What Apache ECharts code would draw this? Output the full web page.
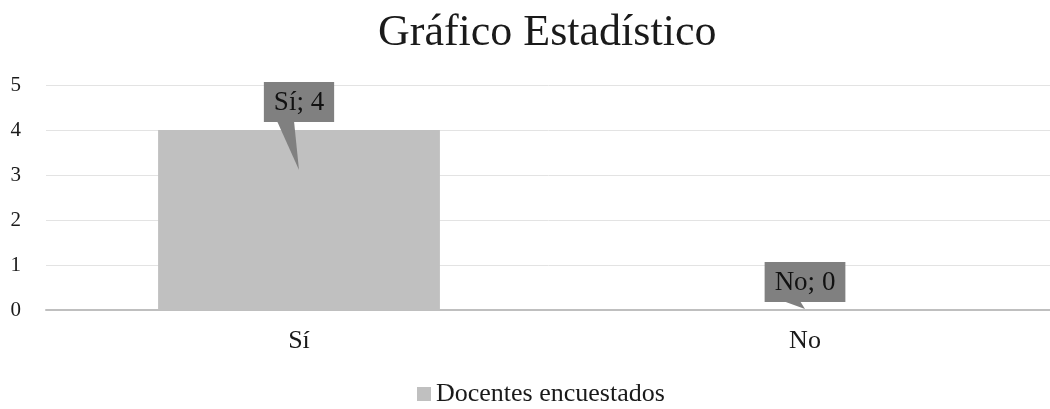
<!DOCTYPE html>
<html><head><meta charset="utf-8">
<script src="https://cdn.jsdelivr.net/npm/echarts@6/dist/echarts.min.js"></script>
<style>html,body{margin:0;padding:0;background:#fff}#c{width:1050px;height:409px}</style>
</head><body><div id="c"></div>
<script>
var categories = ['Sí', 'No'];
var values = [4, 0];
var seriesName = 'Docentes encuestados';
var yTicks = [0, 1, 2, 3, 4, 5];

var chart = echarts.init(document.getElementById('c'));
var font = '"Liberation Serif", "Times New Roman", serif';
chart.setOption({
  animation: false,
  textStyle: { fontFamily: font },
  title: { text: 'Gráfico Estadístico', left: 373, top: 6,
    textStyle: { fontFamily: font, fontSize: 44, fontWeight: 'normal', color: '#1a1a1a' } },
  legend: { bottom: -3, left: 412, itemWidth: 14, itemHeight: 14, icon: 'rect', itemGap: 8,
    data: [seriesName],
    textStyle: { fontFamily: font, fontSize: 26, color: '#1a1a1a' } },
  grid: { left: 46, width: 1012, top: 85, bottom: 99, containLabel: false, outerBoundsMode: 'none' },
  xAxis: { type: 'category', data: categories,
    axisLine: { lineStyle: { color: '#bfbfbf', width: 2 } },
    axisTick: { show: false },
    axisLabel: { fontFamily: font, fontSize: 26, color: '#1a1a1a', margin: 18 } },
  yAxis: { type: 'value', min: 0, max: 5, interval: 1,
    axisLine: { show: false }, axisTick: { show: false },
    splitLine: { lineStyle: { color: '#e3e3e3', width: 1 } },
    axisLabel: { fontFamily: font, fontSize: 21, color: '#1a1a1a', margin: 25,
      formatter: function (v) { return yTicks.indexOf(v) >= 0 ? String(v) : ''; } } },
  series: [
    { name: seriesName, type: 'bar', data: values, barWidth: '55.7%',
      itemStyle: { color: '#c0c0c0' } },
    { type: 'custom', data: values.map(function (v, i) { return [i, v]; }),
      tooltip: { show: false }, z: 10,
      renderItem: function (params, api) {
        var i = api.value(0), v = api.value(1);
        var p = api.coord([i, v]);
        var base = api.coord([i, 0]);
        var cx = p[0];
        var boxBottom = p[1] - 8;
        var tipY = Math.min(p[1] + 40, base[1] - 1);
        var txt = categories[i] + '; ' + values[i];
        return { type: 'group', children: [
          { type: 'polygon', shape: { points: [[cx - 22, boxBottom - 1], [cx - 5, boxBottom - 1], [cx, tipY]] },
            style: { fill: '#808080' } },
          { type: 'text', x: cx, y: boxBottom,
            style: { text: txt, fontFamily: font, fontSize: 27, lineHeight: 27, fill: '#111',
              align: 'center', verticalAlign: 'bottom',
              backgroundColor: '#808080', padding: [7, 10, 6, 10] } }
        ] };
      } }
  ]
});
</script></body></html>
